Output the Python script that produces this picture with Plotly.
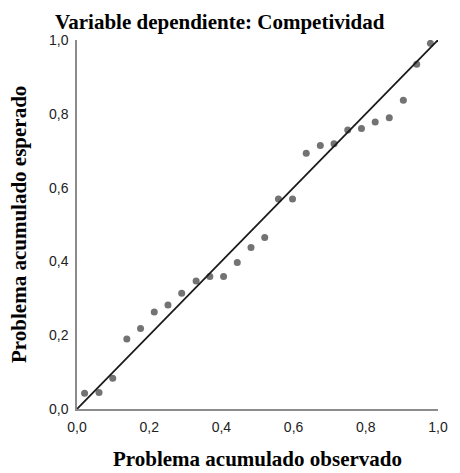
import plotly.graph_objects as go

# Observed cumulative probability (x) and expected cumulative probability (y)
observado = [0.021, 0.061, 0.099, 0.138, 0.176, 0.214, 0.252, 0.290, 0.330,
             0.368, 0.406, 0.444, 0.482, 0.520, 0.558, 0.597, 0.635, 0.674,
             0.712, 0.750, 0.788, 0.826, 0.865, 0.904, 0.941, 0.979]
esperado = [0.043, 0.045, 0.083, 0.190, 0.218, 0.263, 0.282, 0.314, 0.347,
            0.359, 0.359, 0.397, 0.438, 0.465, 0.569, 0.569, 0.693, 0.714,
            0.719, 0.756, 0.760, 0.778, 0.789, 0.837, 0.934, 0.991]
ref_x = [0.0, 1.003]
ref_y = [0.0, 1.003]
tick_vals = [0.0, 0.2, 0.4, 0.6, 0.8, 1.0]
tick_text = ["0,0", "0,2", "0,4", "0,6", "0,8", "1,0"]

title_text = "Variable dependiente: Competividad"
x_title = "Problema acumulado observado"
y_title = "Problema acumulado esperado"

fig = go.Figure()
fig.add_trace(go.Scatter(x=observado, y=esperado, mode="markers",
                         marker=dict(color="#737373", size=7, line=dict(width=0)),
                         hoverinfo="x+y", showlegend=False))
fig.add_trace(go.Scatter(x=ref_x, y=ref_y, mode="lines",
                         line=dict(color="#1a1a1a", width=1.8),
                         hoverinfo="skip", showlegend=False))

serif = "Liberation Serif, Times New Roman, serif"
sans = "Liberation Sans, Arial, sans-serif"

L, R, T, B = 77, 447, 40, 409
PW, PH = R - L, B - T

axis_common = dict(range=[0, 1], tickvals=tick_vals, ticktext=tick_text,
                   showgrid=False, zeroline=False, showline=True,
                   linecolor="#8c8c8c", linewidth=1.5, ticks="",
                   ticklabelstandoff=4,
                   tickfont=dict(family=sans, size=14, color="#222"),
                   fixedrange=True)

fig.update_layout(
    width=460, height=473,
    margin=dict(l=L, r=460 - R, t=T, b=473 - B),
    paper_bgcolor="white", plot_bgcolor="white",
    showlegend=False,
    xaxis=axis_common,
    yaxis=axis_common,
    annotations=[
        dict(text="<b>" + title_text + "</b>", xref="paper", yref="paper",
             x=(223.5 - L) / PW, y=(B - 22) / PH, xanchor="center", yanchor="middle",
             showarrow=False, font=dict(family=serif, size=21, color="#000")),
        dict(text="<b>" + x_title + "</b>", xref="paper", yref="paper",
             x=0.5, y=(B - 459) / PH, xanchor="center", yanchor="middle",
             showarrow=False, font=dict(family=serif, size=21, color="#000")),
        dict(text="<b>" + y_title + "</b>", xref="paper", yref="paper",
             x=(17 - L) / PW, y=0.5, xanchor="center", yanchor="middle",
             textangle=-90, showarrow=False, font=dict(family=serif, size=21, color="#000")),
    ],
)

fig.write_html("out.html",
               config={"displayModeBar": False},
               post_script="document.body.style.margin='0';document.body.style.overflow='hidden';")
